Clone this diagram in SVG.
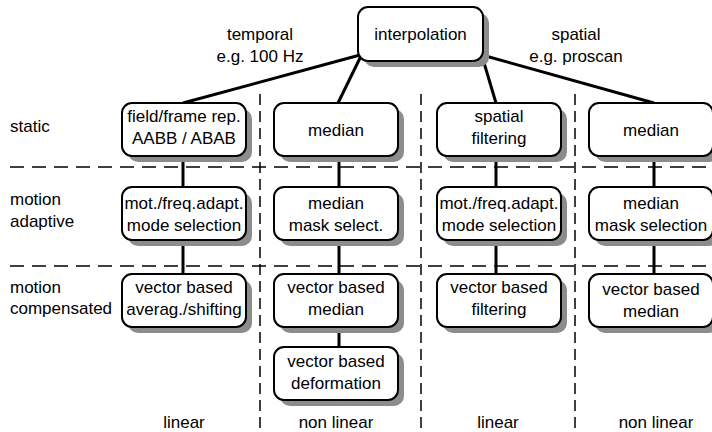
<svg xmlns="http://www.w3.org/2000/svg" width="712" height="432" viewBox="0 0 712 432">
  <style>
    text { font-family: "Liberation Sans", Arial, sans-serif; font-size: 17px; fill: #000; }
    .c { text-anchor: middle; }
    .shadow { fill: #8c8c8c; }
    .box { fill: #fff; stroke: #000; stroke-width: 2; }
    .link { stroke: #000; stroke-width: 3; fill: none; }
    .hgrid { stroke: #000; stroke-width: 1.5; stroke-dasharray: 14 8; fill: none; }
    .vgrid { stroke: #000; stroke-width: 1.5; stroke-dasharray: 11 6; fill: none; }
  </style>
  <defs>
    <g id="card">
      <rect class="shadow" x="6" y="6" width="124" height="53" rx="10"/>
      <rect class="box" x="0" y="0" width="124" height="53" rx="10"/>
    </g>
  </defs>

  <!-- grid separating categories -->
  <g id="grid">
    <line class="hgrid" x1="10" y1="167" x2="712" y2="167"/>
    <line class="hgrid" x1="10" y1="266" x2="712" y2="266"/>
    <line class="vgrid" x1="260" y1="94" x2="260" y2="432"/>
    <line class="vgrid" x1="421" y1="94" x2="421" y2="432"/>
    <line class="vgrid" x1="575" y1="94" x2="575" y2="432"/>
  </g>

  <!-- connectors -->
  <g id="connectors">
    <line class="link" x1="360" y1="55" x2="183" y2="103"/>
    <line class="link" x1="361" y1="56" x2="338" y2="103"/>
    <line class="link" x1="482" y1="56" x2="496" y2="103"/>
    <line class="link" x1="482" y1="55" x2="654" y2="103"/>
    <line class="link" x1="183" y1="155" x2="183" y2="187"/>
    <line class="link" x1="183" y1="240" x2="183" y2="273"/>
    <line class="link" x1="339" y1="155" x2="339" y2="187"/>
    <line class="link" x1="339" y1="240" x2="339" y2="273"/>
    <line class="link" x1="339" y1="327" x2="339" y2="347"/>
    <line class="link" x1="496" y1="155" x2="496" y2="187"/>
    <line class="link" x1="496" y1="240" x2="496" y2="273"/>
    <line class="link" x1="654" y1="155" x2="654" y2="187"/>
    <line class="link" x1="654" y1="240" x2="654" y2="273"/>
  </g>

  <!-- root -->
  <g id="interpolation">
    <rect class="shadow" x="364" y="13" width="125" height="54" rx="10"/>
    <rect class="box" x="358" y="7" width="125" height="54" rx="10"/>
    <text class="c" x="420.5" y="40">interpolation</text>
  </g>

  <!-- branch labels -->
  <g id="label-temporal">
    <text class="c" x="260" y="40">temporal</text>
    <text class="c" x="260" y="62">e.g. 100 Hz</text>
  </g>
  <g id="label-spatial">
    <text class="c" x="576" y="40">spatial</text>
    <text class="c" x="576" y="62">e.g. proscan</text>
  </g>

  <!-- row labels -->
  <g id="row-static"><text x="10" y="132">static</text></g>
  <g id="row-adaptive">
    <text x="10" y="205">motion</text>
    <text x="10" y="227">adaptive</text>
  </g>
  <g id="row-compensated">
    <text x="10" y="293">motion</text>
    <text x="10" y="314">compensated</text>
  </g>

  <!-- column 1: temporal linear -->
  <g id="field-frame">
    <use href="#card" x="122" y="103"/>
    <text class="c" x="184" y="122">field/frame rep.</text>
    <text class="c" x="184" y="144">AABB / ABAB</text>
  </g>
  <g id="mode-select-t">
    <use href="#card" x="122" y="187"/>
    <text class="c" x="184" y="209">mot./freq.adapt.</text>
    <text class="c" x="184" y="231">mode selection</text>
  </g>
  <g id="avg-shift">
    <use href="#card" x="122" y="274"/>
    <text class="c" x="184" y="293">vector based</text>
    <text class="c" x="184" y="315">averag./shifting</text>
  </g>

  <!-- column 2: temporal non linear -->
  <g id="median-t">
    <use href="#card" x="274" y="103"/>
    <text class="c" x="336" y="136">median</text>
  </g>
  <g id="mask-select-t">
    <use href="#card" x="274" y="187"/>
    <text class="c" x="336" y="209">median</text>
    <text class="c" x="336" y="231">mask select.</text>
  </g>
  <g id="vb-median-t">
    <use href="#card" x="274" y="274"/>
    <text class="c" x="336" y="293">vector based</text>
    <text class="c" x="336" y="315">median</text>
  </g>
  <g id="vb-deformation">
    <use href="#card" x="274" y="347"/>
    <text class="c" x="336" y="367">vector based</text>
    <text class="c" x="336" y="389">deformation</text>
  </g>

  <!-- column 3: spatial linear -->
  <g id="spatial-filtering">
    <use href="#card" x="437" y="103"/>
    <text class="c" x="499" y="122">spatial</text>
    <text class="c" x="499" y="144">filtering</text>
  </g>
  <g id="mode-select-s">
    <use href="#card" x="437" y="187"/>
    <text class="c" x="499" y="209">mot./freq.adapt.</text>
    <text class="c" x="499" y="231">mode selection</text>
  </g>
  <g id="vb-filtering">
    <use href="#card" x="437" y="274"/>
    <text class="c" x="499" y="293">vector based</text>
    <text class="c" x="499" y="315">filtering</text>
  </g>

  <!-- column 4: spatial non linear -->
  <g id="median-s">
    <use href="#card" x="589" y="103"/>
    <text class="c" x="651" y="136">median</text>
  </g>
  <g id="mask-select-s">
    <use href="#card" x="589" y="187"/>
    <text class="c" x="651" y="209">median</text>
    <text class="c" x="651" y="231">mask selection</text>
  </g>
  <g id="vb-median-s">
    <use href="#card" x="589" y="274"/>
    <text class="c" x="651" y="295">vector based</text>
    <text class="c" x="651" y="317">median</text>
  </g>

  <!-- column footers -->
  <g id="footer">
    <text class="c" x="184" y="428">linear</text>
    <text class="c" x="336" y="428">non linear</text>
    <text class="c" x="498" y="428">linear</text>
    <text class="c" x="656" y="428">non linear</text>
  </g>
</svg>
